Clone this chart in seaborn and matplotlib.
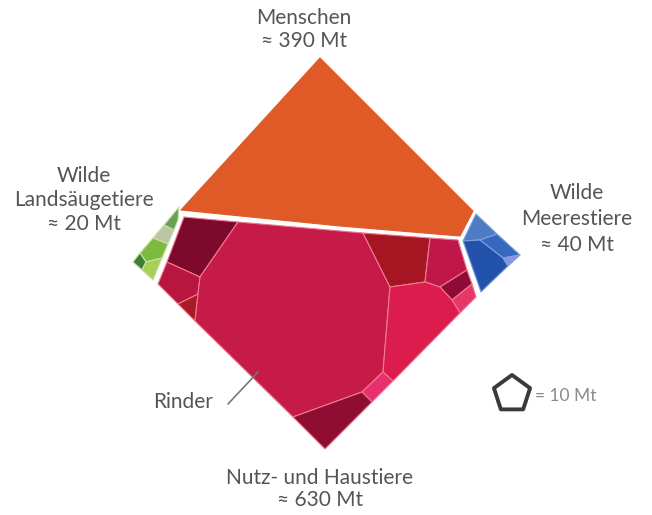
import numpy as np
import matplotlib
matplotlib.use("Agg")
import matplotlib.pyplot as plt
from matplotlib.patches import Polygon, RegularPolygon
import seaborn as sns

# ================= data =================
groups = ["Menschen", "Wilde Landsäugetiere", "Wilde Meerestiere", "Nutz- und Haustiere"]
mass_mt = [390, 20, 40, 630]
legend_unit_mt = 10
highlight = "Rinder"

# voronoi treemap cells (outline vertices, picture units) per group
cells_menschen = [
    [(320, 58), (473, 211), (460, 236), (340, 226), (181, 210)],
]
cells_land = [
    [(179, 207), (164, 225), (174, 230), (178, 220)],
    [(164, 225), (153, 238), (168, 244), (174, 230)],
    [(153, 238), (140, 253), (146, 262), (162, 258), (168, 244)],
    [(140, 253), (133, 262), (142, 270), (146, 262)],
    [(146, 262), (142, 270), (153, 280), (160, 263), (162, 258)],
]
cells_meer = [
    [(476, 214), (497, 234), (480, 240), (463, 241)],
    [(497, 234), (520, 255), (503, 258), (480, 240)],
    [(463, 241), (480, 240), (503, 258), (508, 266), (481, 292)],
    [(503, 258), (520, 255), (508, 266)],
]
cells_nutz = [
    [(184, 217), (238, 222), (200, 277), (167, 262)],
    [(167, 262), (200, 277), (198, 294), (178, 304), (158, 284)],
    [(178, 304), (198, 294), (195, 321)],
    [(238, 222), (363, 233), (390, 287), (383, 372), (362, 392), (293, 417),
     (195, 321), (198, 294), (200, 277)],
    [(363, 233), (430, 238), (425, 282), (390, 287)],
    [(430, 238), (458, 240), (467, 270), (440, 287), (425, 282)],
    [(440, 287), (467, 270), (472, 284), (452, 300)],
    [(452, 300), (472, 284), (476, 297), (460, 313)],
    [(390, 287), (425, 282), (440, 287), (452, 300), (460, 313), (393, 381), (383, 372)],
    [(362, 392), (383, 372), (393, 381), (372, 402)],
    [(293, 417), (362, 392), (372, 402), (325, 449)],
]

# ================= style =================
colors_menschen = ["#e05a27"]
colors_land = ["#6a9f55", "#b9c7a4", "#7dbb3e", "#3f7d35", "#a9cf5b"]
colors_meer = ["#4d7cc4", "#3569bf", "#2352ad", "#8b96d6"]
colors_nutz = ["#7d0a2c", "#b8163e", "#a81a25", "#c61a48", "#a51622", "#c0174a",
               "#8e0b35", "#e53868", "#dc1c4c", "#e83070", "#8f0c32"]
inner_edge = {"Menschen": "#e05a27", "Wilde Landsäugetiere": "#c9e0a8",
              "Wilde Meerestiere": "#7f9fe0", "Nutz- und Haustiere": "#ef7a8e"}
text_color = "#555555"

sns.set_theme(style="white")
plt.rcParams["font.family"] = ["Lato", "DejaVu Sans"]

fig = plt.figure(figsize=(6.52, 5.15), dpi=100)
ax = fig.add_axes([0, 0, 1, 1])
ax.set_xlim(0, 652)
ax.set_ylim(515, 0)
ax.axis("off")

all_cells = [cells_menschen, cells_land, cells_meer, cells_nutz]
all_colors = [colors_menschen, colors_land, colors_meer, colors_nutz]
for name, cells, cols in zip(groups, all_cells, all_colors):
    for verts, c in zip(cells, cols):
        ax.add_patch(Polygon(verts, closed=True, facecolor=c,
                             edgecolor=inner_edge[name], linewidth=0.8,
                             joinstyle="round"))

# labels
def label(x, y, lines, size=15, step=24):
    for i, t in enumerate(lines):
        ax.text(x, y + i * step, t, ha="center", va="center",
                fontsize=size, color=text_color)

fmt = lambda m: f"≈ {m} Mt"
label(304, 18, ["Menschen", fmt(mass_mt[0])], step=23)
label(84, 176, ["Wilde", "Landsäugetiere", fmt(mass_mt[1])])
label(577, 193, ["Wilde", "Meerestiere", fmt(mass_mt[2])], step=26)
label(320, 478, ["Nutz- und Haustiere", fmt(mass_mt[3])], step=22)

# Rinder callout
ax.plot([228, 258], [404, 372], color="#777777", linewidth=1.2)
ax.text(183, 402, highlight, ha="center", va="center", fontsize=15, color=text_color)

# legend pentagon
ax.add_patch(RegularPolygon((512, 394), numVertices=5, radius=19, orientation=np.pi,
                            facecolor="white", edgecolor="#3a3a3a", linewidth=2.8,
                            joinstyle="round"))
ax.text(535, 396, f"= {legend_unit_mt} Mt", ha="left", va="center",
        fontsize=12.5, color="#8a8a8a")

fig.savefig("out.png", dpi=100, facecolor="white")
